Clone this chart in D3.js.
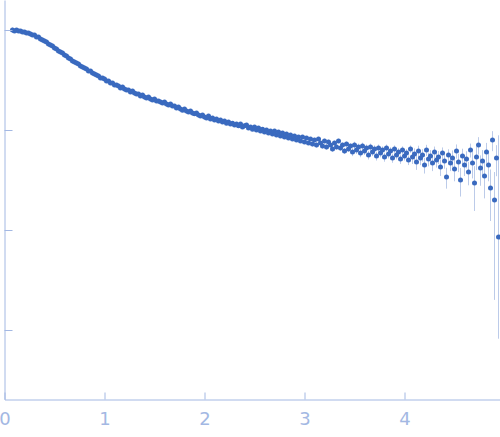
<!DOCTYPE html>
<html>
<head>
<meta charset="utf-8">
<script src="https://cdn.jsdelivr.net/npm/d3@7"></script>
<style>
body { margin: 0; background: #fff; }
.axis path, .axis line { stroke: #a3b8e3; }
.axis text { fill: #a3b8e3; font-family: "DejaVu Sans", sans-serif; font-size: 18px; }
</style>
</head>
<body>
<svg width="500" height="437"></svg>
<script>
// scattering vector q (x) and intensity I (y, log)
var q = [0.08,0.10,0.12,0.14,0.16,0.18,0.20,0.22,0.24,0.26,
  0.28,0.30,0.32,0.34,0.36,0.38,0.40,0.42,0.44,0.46,
  0.48,0.50,0.52,0.54,0.56,0.58,0.60,0.62,0.64,0.66,
  0.68,0.70,0.72,0.74,0.76,0.78,0.80,0.82,0.84,0.86,
  0.88,0.90,0.92,0.94,0.96,0.98,1.00,1.02,1.04,1.06,
  1.08,1.10,1.12,1.14,1.16,1.18,1.20,1.22,1.24,1.26,
  1.28,1.30,1.32,1.34,1.36,1.38,1.40,1.42,1.44,1.46,
  1.48,1.50,1.52,1.54,1.56,1.58,1.60,1.62,1.64,1.66,
  1.68,1.70,1.72,1.74,1.76,1.78,1.80,1.82,1.84,1.86,
  1.88,1.90,1.92,1.94,1.96,1.98,2.00,2.02,2.04,2.06,
  2.08,2.10,2.12,2.14,2.16,2.18,2.20,2.22,2.24,2.26,
  2.28,2.30,2.32,2.34,2.36,2.38,2.40,2.42,2.44,2.46,
  2.48,2.50,2.52,2.54,2.56,2.58,2.60,2.62,2.64,2.66,
  2.68,2.70,2.72,2.74,2.76,2.78,2.80,2.82,2.84,2.86,
  2.88,2.90,2.92,2.94,2.96,2.98,3.00,3.02,3.04,3.06,
  3.08,3.10,3.12,3.14,3.16,3.18,3.20,3.22,3.24,3.26,
  3.28,3.30,3.32,3.34,3.36,3.38,3.40,3.42,3.44,3.46,
  3.48,3.50,3.52,3.54,3.56,3.58,3.60,3.62,3.64,3.66,
  3.68,3.70,3.72,3.74,3.76,3.78,3.80,3.82,3.84,3.86,
  3.88,3.90,3.92,3.94,3.96,3.98,4.00,4.02,4.04,4.06,
  4.08,4.10,4.12,4.14,4.16,4.18,4.20,4.22,4.24,4.26,
  4.28,4.30,4.32,4.34,4.36,4.38,4.40,4.42,4.44,4.46,
  4.48,4.50,4.52,4.54,4.56,4.58,4.60,4.62,4.64,4.66,
  4.68,4.70,4.72,4.74,4.76,4.78,4.80,4.82,4.84,4.86,
  4.88,4.90,4.92,4.94];

var intensity = [1.000,0.977,1.000,0.977,0.977,0.955,0.955,0.933,0.933,0.912,
  0.891,0.891,0.851,0.851,0.813,0.794,0.776,0.759,0.724,0.708,
  0.692,0.661,0.646,0.617,0.603,0.589,0.562,0.550,0.525,0.513,
  0.490,0.479,0.468,0.457,0.437,0.427,0.417,0.407,0.389,0.389,
  0.372,0.363,0.355,0.347,0.331,0.331,0.324,0.309,0.309,0.295,
  0.295,0.282,0.282,0.275,0.263,0.269,0.257,0.251,0.251,0.240,
  0.245,0.234,0.229,0.229,0.219,0.224,0.214,0.209,0.214,0.204,
  0.200,0.204,0.195,0.195,0.191,0.186,0.191,0.182,0.178,0.182,
  0.174,0.174,0.166,0.170,0.162,0.158,0.162,0.155,0.151,0.155,
  0.148,0.145,0.148,0.141,0.138,0.141,0.135,0.132,0.138,0.129,
  0.132,0.126,0.129,0.123,0.126,0.120,0.123,0.117,0.120,0.115,
  0.117,0.112,0.115,0.110,0.115,0.107,0.110,0.112,0.105,0.107,
  0.102,0.107,0.100,0.105,0.0977,0.102,0.0955,0.100,0.0933,0.0977,
  0.0912,0.0977,0.0891,0.0955,0.0871,0.0933,0.0851,0.0912,0.0832,0.0891,
  0.0813,0.0871,0.0794,0.0851,0.0776,0.0851,0.0759,0.0832,0.0741,0.0813,
  0.0724,0.0794,0.0708,0.0813,0.0741,0.0692,0.0776,0.0676,0.0759,0.0708,
  0.0646,0.0741,0.0676,0.0776,0.0661,0.0708,0.0617,0.0724,0.0646,0.0692,
  0.0603,0.0708,0.0631,0.0676,0.0589,0.0692,0.0617,0.0661,0.0562,0.0676,
  0.0603,0.0646,0.0550,0.0661,0.0589,0.0631,0.0537,0.0661,0.0575,0.0617,
  0.0525,0.0646,0.0562,0.0603,0.0513,0.0631,0.0550,0.0589,0.0501,0.0646,
  0.0537,0.0575,0.0479,0.0617,0.0525,0.0562,0.0447,0.0631,0.0513,0.0550,
  0.0468,0.0603,0.0501,0.0537,0.0427,0.0589,0.0490,0.0339,0.0562,0.0468,
  0.0525,0.0407,0.0617,0.0479,0.0316,0.0550,0.0447,0.0513,0.0380,0.0631,
  0.0468,0.0295,0.0537,0.0708,0.0417,0.0490,0.0347,0.0603,0.0447,0.0263,
  0.0794,0.0200,0.0525,0.00851];

var errors = [0.06,0.004,0.004,0.004,0.004,0.004,0.004,0.004,0.004,0.004,
  0.004,0.004,0.004,0.004,0.004,0.004,0.004,0.004,0.004,0.004,
  0.004,0.004,0.004,0.004,0.004,0.004,0.004,0.004,0.004,0.004,
  0.003,0.003,0.003,0.003,0.003,0.003,0.003,0.003,0.003,0.003,
  0.003,0.003,0.003,0.003,0.003,0.003,0.003,0.003,0.003,0.003,
  0.003,0.003,0.003,0.003,0.003,0.003,0.003,0.003,0.003,0.003,
  0.002,0.002,0.002,0.002,0.002,0.002,0.002,0.002,0.002,0.002,
  0.002,0.002,0.002,0.002,0.002,0.002,0.002,0.002,0.002,0.002,
  0.0015,0.0015,0.0015,0.0015,0.0015,0.0015,0.0015,0.0015,0.0015,0.0015,
  0.0015,0.0015,0.0015,0.0015,0.0015,0.0015,0.0015,0.0015,0.0015,0.0015,
  0.0025,0.0025,0.0025,0.0025,0.0025,0.0025,0.0025,0.0025,0.0025,0.0025,
  0.0025,0.0025,0.0025,0.0025,0.0025,0.0025,0.0025,0.0025,0.0025,0.0025,
  0.0025,0.0025,0.0025,0.0025,0.0025,0.0025,0.0025,0.0025,0.0025,0.0025,
  0.003,0.003,0.003,0.003,0.003,0.003,0.003,0.003,0.003,0.003,
  0.003,0.003,0.003,0.003,0.003,0.003,0.003,0.003,0.003,0.003,
  0.0042,0.0042,0.0042,0.0042,0.0042,0.0042,0.0042,0.0042,0.0042,0.0042,
  0.0042,0.0042,0.0042,0.0042,0.0042,0.0042,0.0042,0.0042,0.0042,0.0042,
  0.0055,0.0055,0.0055,0.0055,0.0055,0.0055,0.0055,0.0055,0.0055,0.0055,
  0.0055,0.0055,0.0055,0.0055,0.0055,0.0055,0.0055,0.0055,0.0055,0.0055,
  0.0055,0.0055,0.0055,0.0055,0.0055,0.0055,0.0055,0.0055,0.0055,0.0055,
  0.008,0.008,0.008,0.008,0.008,0.008,0.008,0.008,0.008,0.008,
  0.008,0.008,0.008,0.008,0.008,0.008,0.008,0.008,0.008,0.008,
  0.01,0.01,0.01,0.01,0.01,0.01,0.01,0.01,0.01,0.01,
  0.014,0.014,0.014,0.014,0.014,0.014,0.014,0.014,0.014,0.014,
  0.018,0.018,0.018,0.08];

var xTicks = [0, 1, 2, 3, 4];
var yTicks = [1, 0.1, 0.01, 0.001];

var svg = d3.select("svg");
var height = 399.5;

var xScale = d3.scaleLinear().domain([0, 4.955]).range([4.5, 500]);
var yScale = d3.scaleLog().domain([Math.pow(10, -3.695), Math.pow(10, 0.3)]).range([height, 0]);

var data = q.map(function(d, i) { return {q: d, I: intensity[i], e: errors[i]}; });

// error bars first, points on top
svg.append("g")
.selectAll("line")
.data(data)
.enter()
.append("line")
.attr("x1", (d)=>xScale(d.q))
.attr("x2", (d)=>xScale(d.q))
.attr("y1", (d)=>yScale(d.I + d.e))
.attr("y2", function(d) {
  var lo = d.I - d.e > 0 ? d.I - d.e : d.I * d.I / (d.I + d.e);
  return yScale(lo);
})
.attr("stroke", "#bccbe9")
.attr("stroke-width", 1);

svg.append("g")
.selectAll("circle")
.data(data)
.enter()
.append("circle")
.attr("cx", (d)=>xScale(d.q))
.attr("cy", (d)=>yScale(d.I))
.attr("r", 2.5)
.attr("fill", "#3a6abf");

svg.append("g")
.attr("class", "axis")
.attr("transform", "translate(0," + height + ")")
.call(d3.axisBottom(xScale).tickValues(xTicks).tickSize(-7).tickSizeOuter(0).tickPadding(13).tickFormat(d3.format("d")));

svg.append("g")
.attr("class", "axis")
.attr("transform", "translate(4.5,0)")
.call(d3.axisRight(yScale).tickValues(yTicks).tickSize(8).tickSizeOuter(0).tickFormat(""));
</script>
</body>
</html>
